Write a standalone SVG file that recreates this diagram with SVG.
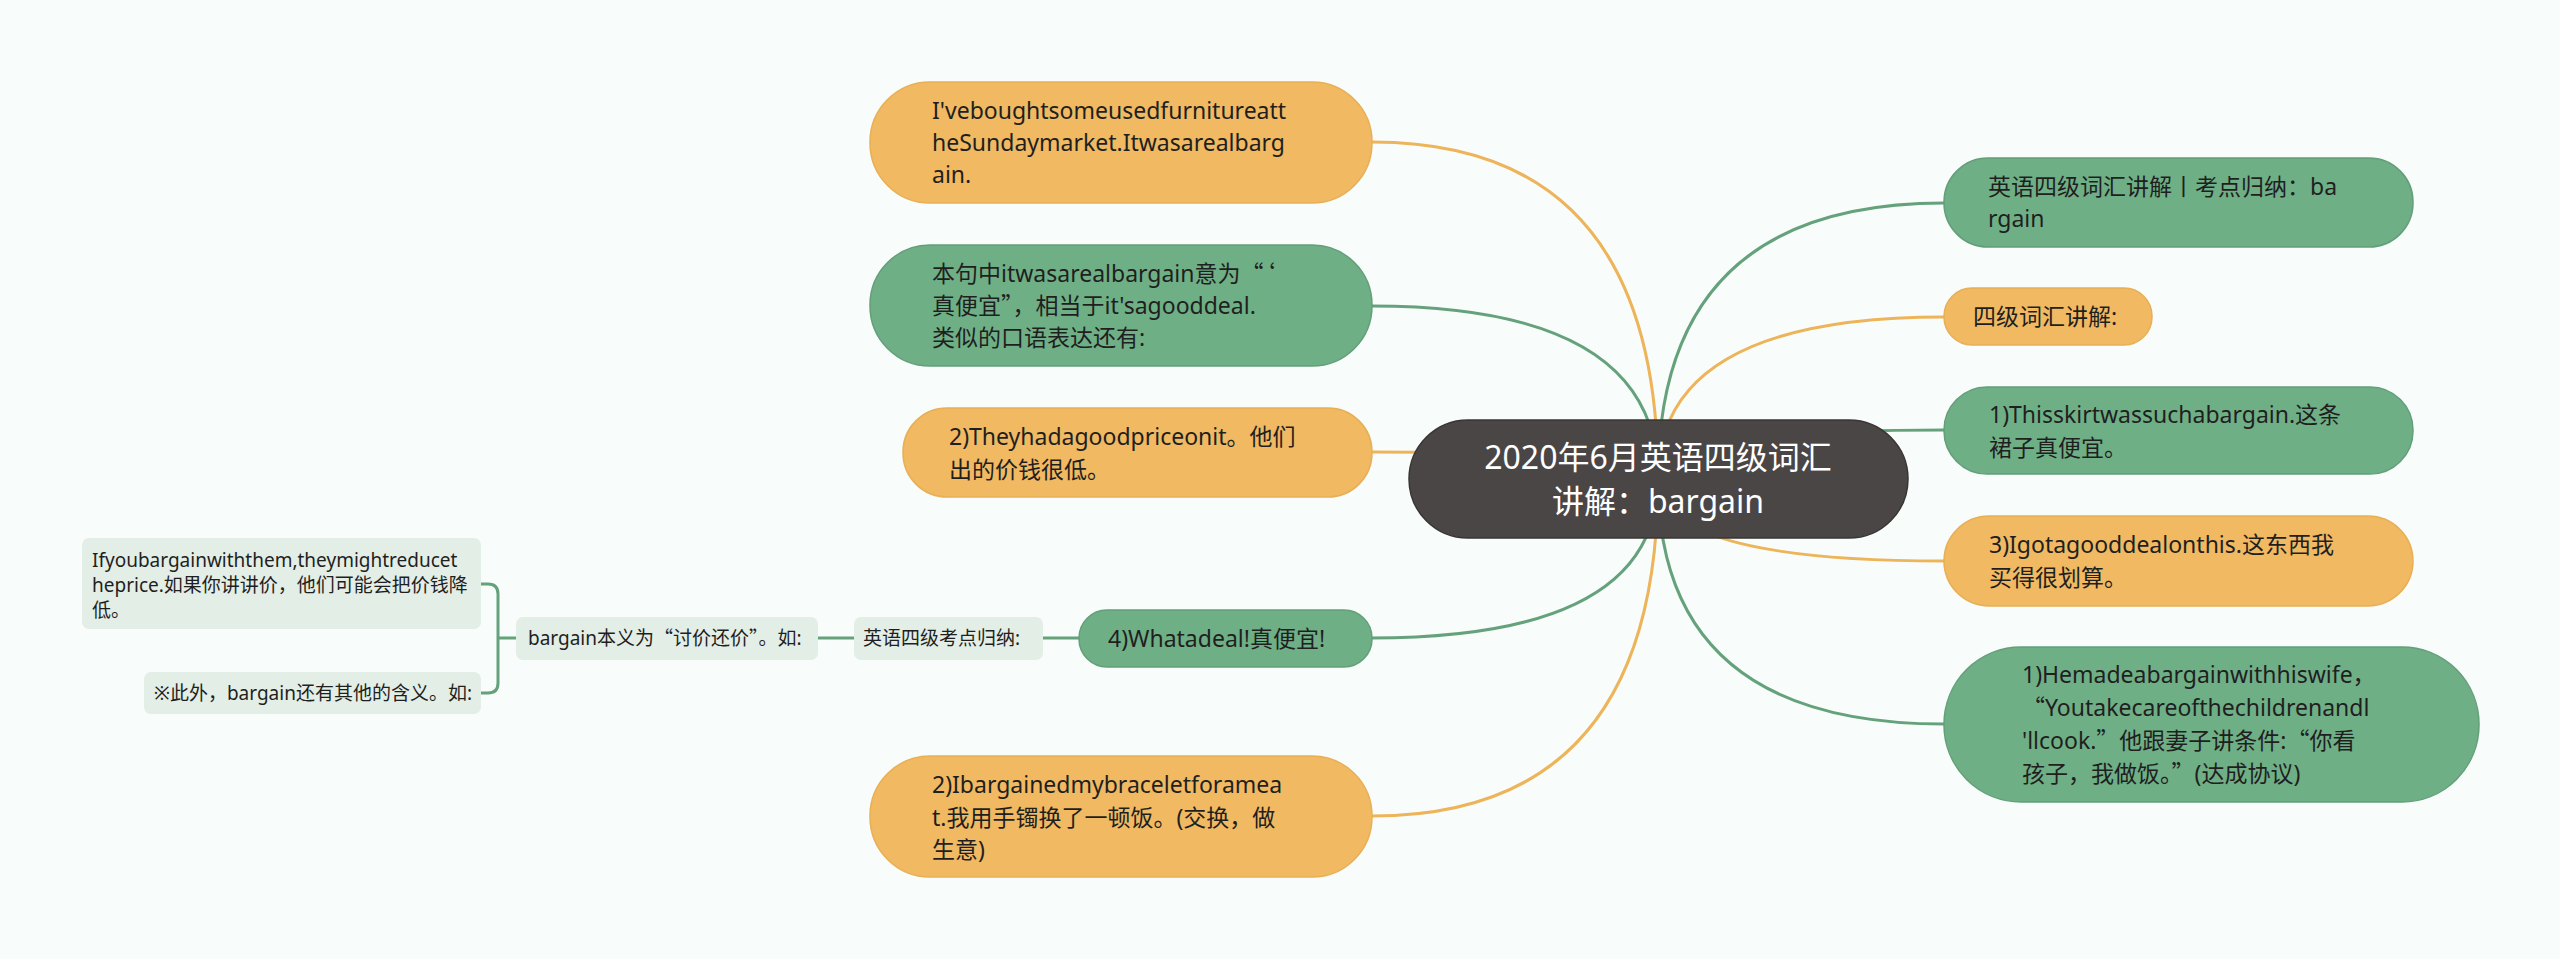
<svg xmlns="http://www.w3.org/2000/svg" width="2560" height="959" viewBox="0 0 2560 959">
<style>
.bg{fill:#F8FDFC}
.or{fill:#F0B962;stroke:#E8AF55;stroke-width:1.5}
.gr{fill:#6FAF86;stroke:#639F79;stroke-width:1.5}
.lt{fill:#E3EEE6}
.root{fill:#4B4646;stroke:#3A3535;stroke-width:1.5}
.t{font-family:"Noto Sans","Noto Sans CJK SC",sans-serif;font-size:23px;fill:#1F1F1F}
.ts{font-family:"Noto Sans","Noto Sans CJK SC",sans-serif;font-size:19px;fill:#1F1F1F}
.tr{font-family:"Noto Sans","Noto Sans CJK SC",sans-serif;font-size:32px;fill:#FFFFFF;text-anchor:middle}
.q{font-family:"Noto Sans CJK SC",sans-serif}
.co{fill:none;stroke:#EDB45A;stroke-width:3}
.cg{fill:none;stroke:#65A27C;stroke-width:3}
</style>
<rect class="bg" x="0" y="0" width="2560" height="959"/>
<g id="connectors">
<path class="co" d="M1372,142 Q1658,142 1658,479"/>
<path class="cg" d="M1372,306 Q1658,306 1658,479"/>
<path class="co" d="M1372,452 Q1658,452 1658,479"/>
<path class="cg" d="M1372,638 Q1658,638 1658,479"/>
<path class="co" d="M1372,816 Q1658,816 1658,479"/>
<path class="cg" d="M1944,203 Q1658,203 1658,479"/>
<path class="co" d="M1944,317 Q1658,317 1658,479"/>
<path class="cg" d="M1944,430 Q1658,430 1658,479"/>
<path class="co" d="M1944,561 Q1658,561 1658,479"/>
<path class="cg" d="M1944,724 Q1658,724 1658,479"/>
<path class="cg" d="M1079,638 L1043,638"/>
<path class="cg" d="M854,638 L818,638"/>
<path class="cg" d="M516,638 L498,638 M481,584 L488,584 Q498,584 498,594 L498,683 Q498,693 488,693 L481,693"/>
</g>
<g id="root">
<rect class="root" x="1409" y="420" width="499" height="118" rx="59"/>
<text class="tr" x="1658" y="469">2020年6月英语四级词汇</text>
<text class="tr" x="1658" y="513">讲解：bargain</text>
</g>
<g id="n1">
<rect class="or" x="870" y="82" width="502" height="121" rx="60"/>
<text class="t" x="932" y="119">I'veboughtsomeusedfurnitureatt</text>
<text class="t" x="932" y="151">heSundaymarket.Itwasarealbarg</text>
<text class="t" x="932" y="183">ain.</text>
</g>
<g id="n2">
<rect class="gr" x="870" y="245" width="502" height="121" rx="60"/>
<text class="t" x="932" y="282">本句中itwasarealbargain意为<tspan class="q">“‘</tspan></text>
<text class="t" x="932" y="314">真便宜<tspan class="q">”</tspan>，相当于it'sagooddeal.</text>
<text class="t" x="932" y="346">类似的口语表达还有:</text>
</g>
<g id="n3">
<rect class="or" x="903" y="408" width="469" height="89" rx="44"/>
<text class="t" x="949" y="445">2)Theyhadagoodpriceonit。他们</text>
<text class="t" x="949" y="478">出的价钱很低。</text>
</g>
<g id="n4">
<rect class="gr" x="1079" y="610" width="293" height="57" rx="28"/>
<text class="t" x="1108" y="647">4)Whatadeal!真便宜!</text>
</g>
<g id="n5">
<rect class="or" x="870" y="756" width="502" height="121" rx="60"/>
<text class="t" x="932" y="793">2)Ibargainedmybraceletforamea</text>
<text class="t" x="932" y="826">t.我用手镯换了一顿饭。(交换，做</text>
<text class="t" x="932" y="858">生意)</text>
</g>
<g id="n6">
<rect class="gr" x="1944" y="158" width="469" height="89" rx="44"/>
<text class="t" x="1988" y="195">英语四级词汇讲解丨考点归纳：ba</text>
<text class="t" x="1988" y="227">rgain</text>
</g>
<g id="n7">
<rect class="or" x="1944" y="288" width="208" height="57" rx="28"/>
<text class="t" x="1973" y="325">四级词汇讲解:</text>
</g>
<g id="n8">
<rect class="gr" x="1944" y="387" width="469" height="87" rx="43"/>
<text class="t" x="1989" y="423">1)Thisskirtwassuchabargain.这条</text>
<text class="t" x="1989" y="456">裙子真便宜。</text>
</g>
<g id="n9">
<rect class="or" x="1944" y="516" width="469" height="90" rx="45"/>
<text class="t" x="1989" y="553">3)Igotagooddealonthis.这东西我</text>
<text class="t" x="1989" y="586">买得很划算。</text>
</g>
<g id="n10">
<rect class="gr" x="1944" y="647" width="535" height="155" rx="77"/>
<text class="t" x="2022" y="683">1)Hemadeabargainwithhiswife，</text>
<text class="t" x="2022" y="716"><tspan class="q">“</tspan>Youtakecareofthechildrenandl</text>
<text class="t" x="2022" y="749">'llcook.<tspan class="q">”</tspan>他跟妻子讲条件:<tspan class="q">“</tspan>你看</text>
<text class="t" x="2022" y="782">孩子，我做饭。<tspan class="q">”</tspan>(达成协议)</text>
</g>
<g id="n11">
<rect class="lt" x="854" y="617" width="189" height="43" rx="7"/>
<text class="ts" x="863" y="645">英语四级考点归纳:</text>
</g>
<g id="n12">
<rect class="lt" x="516" y="617" width="302" height="43" rx="7"/>
<text class="ts" x="528" y="645">bargain本义为<tspan class="q">“</tspan>讨价还价<tspan class="q">”</tspan>。如:</text>
</g>
<g id="n13">
<rect class="lt" x="82" y="538" width="399" height="91" rx="7"/>
<text class="ts" x="92" y="567">Ifyoubargainwiththem,theymightreducet</text>
<text class="ts" x="92" y="592">heprice.如果你讲讲价，他们可能会把价钱降</text>
<text class="ts" x="92" y="617">低。</text>
</g>
<g id="n14">
<rect class="lt" x="144" y="672" width="337" height="42" rx="7"/>
<text class="ts" x="154" y="700">※此外，bargain还有其他的含义。如:</text>
</g>
</svg>
